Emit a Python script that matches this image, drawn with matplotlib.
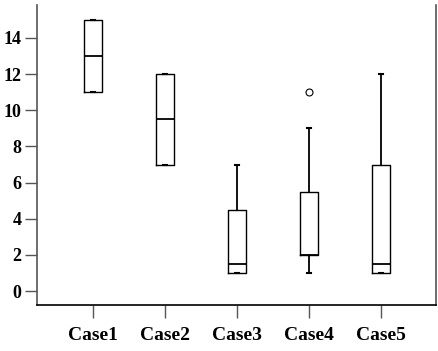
import matplotlib
matplotlib.use('Agg')
import matplotlib.pyplot as plt

# --- data ---
cases = ['Case1', 'Case2', 'Case3', 'Case4', 'Case5']
q1 = [11, 7, 1, 2, 1]
med = [13, 9.5, 1.5, 2, 1.5]
q3 = [15, 12, 4.5, 5.5, 7]
wlo = [11, 7, 1, 1, 1]
whi = [15, 12, 7, 9, 12]
fliers = [[], [], [], [11], []]

stats = []
for i in range(len(cases)):
    stats.append({'label': cases[i], 'q1': q1[i], 'med': med[i], 'q3': q3[i],
                  'whislo': wlo[i], 'whishi': whi[i], 'fliers': fliers[i]})

fig = plt.figure(figsize=(4.38, 3.51), dpi=100)
ax = fig.add_axes([0.0845, 0.131, 0.9105, 0.855])

ax.bxp(stats, widths=0.25, capwidths=0.06, showfliers=True,
       boxprops=dict(color='black', linewidth=1.0),
       medianprops=dict(color='black', linewidth=1.3),
       whiskerprops=dict(color='black', linewidth=1.3),
       capprops=dict(color='black', linewidth=1.5),
       flierprops=dict(marker='o', markersize=5, markerfacecolor='white',
                       markeredgecolor='black', markeredgewidth=0.8))

ax.set_xlim(0.22, 5.76)
ax.set_ylim(-0.77, 15.83)
ax.set_yticks([0, 2, 4, 6, 8, 10, 12, 14])
ax.spines['top'].set_visible(False)
for s in ['left', 'bottom', 'right']:
    ax.spines[s].set_color('#555555')
    ax.spines[s].set_linewidth(1.2)
ax.spines['bottom'].set_color('black')

ax.tick_params(direction='out', length=9, width=1, color='#555555')
for lab in ax.get_xticklabels():
    lab.set_fontfamily('Liberation Serif')
    lab.set_fontweight('bold')
    lab.set_fontsize(14)
for lab in ax.get_yticklabels():
    lab.set_fontfamily('Liberation Serif')
    lab.set_fontweight('bold')
    lab.set_fontsize(13)
ax.tick_params(axis='x', pad=7)
ax.tick_params(axis='y', pad=2)

fig.savefig('out.png', dpi=100)
